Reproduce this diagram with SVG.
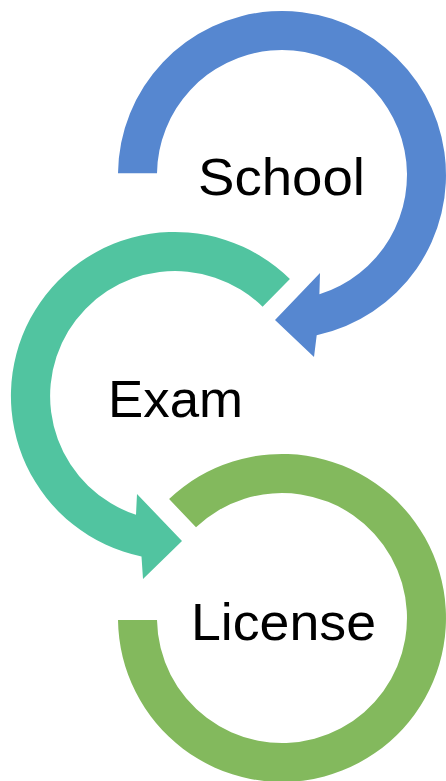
<svg xmlns="http://www.w3.org/2000/svg" width="446" height="781" viewBox="0 0 446 781">
<style>
.lbl{font-family:"Liberation Sans",Arial,sans-serif;font-size:52px;fill:#000000}
.blue{fill:#5687D0}
.teal{fill:#51C4A0}
.lime{fill:#83B95D}
</style>
<rect width="446" height="781" fill="#ffffff"/>
<g id="connectors">
</g>
<g id="node-license">
<path class="lime" d="M169.1,499 A164,164 0 1 1 118,620 L157,620 A125,125 0 1 0 196,527.3 Z"/>
<text class="lbl" x="191" y="640" textLength="185" lengthAdjust="spacingAndGlyphs">License</text>
</g>
<g id="node-exam">
<path class="teal" d="M289.9,279 A164,164 0 1 0 141.5,556.5 L143,579 L182,541 L137,494 L136,514.8 A125,125 0 1 1 262.6,306.8 Z"/>
<text class="lbl" x="108" y="417" textLength="135" lengthAdjust="spacingAndGlyphs">Exam</text>
</g>
<g id="node-school">
<path class="blue" d="M118,173.3 A164,164 0 1 1 316.7,335.3 L314,357 L275,320 L320,273 L319.4,294.3 A125,125 0 1 0 157,173.3 Z"/>
<text class="lbl" x="198" y="195" textLength="167" lengthAdjust="spacingAndGlyphs">School</text>
</g>
</svg>
